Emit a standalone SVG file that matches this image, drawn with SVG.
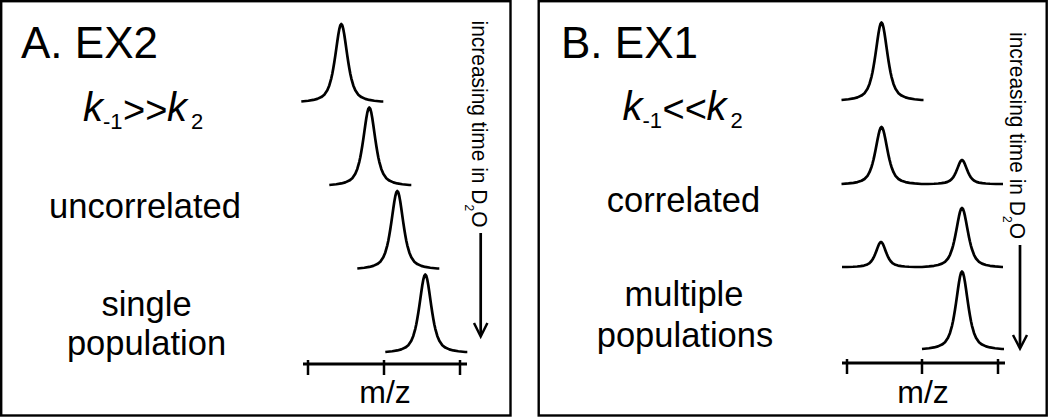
<svg xmlns="http://www.w3.org/2000/svg" xmlns:xlink="http://www.w3.org/1999/xlink" width="1050" height="418" viewBox="0 0 1050 418">
<style>
.frame{fill:#fff;stroke:#000;stroke-width:2.4}
.pk{fill:none;stroke:#000;stroke-width:2.7;stroke-linejoin:round}
.ax{stroke:#000;stroke-width:3;fill:none}
.tk{stroke:#000;stroke-width:2.5}
.t{font-family:"Liberation Sans",Arial,sans-serif;fill:#000}
.title{font-size:44px}
.lbl{font-size:34.5px;text-anchor:middle}
.k{font-size:40px;font-style:italic}
.sub{font-size:22px}
.cmp{font-size:38px}
.vt{font-size:22.5px}
.arr{stroke:#000;stroke-width:2.7;fill:none}
.ah{stroke:#000;stroke-width:2.5;fill:none;stroke-linejoin:miter}
</style>
<defs>
<path id="pk" class="pk" d="M-40 0 L-33 -0.73 L-28 -1.57 L-24 -2.64 L-20 -4.43 L-17 -6.8 L-14 -11.15 L-12 -16.03 L-10 -23.21 L-9 -27.83 L-8 -33.17 L-7 -39.21 L-6 -45.85 L-5 -52.89 L-4 -60.04 L-3 -66.76 L-2 -72.38 L-1 -76.16 L0 -77.5 L1 -76.16 L2 -72.38 L3 -66.76 L4 -60.04 L5 -52.89 L6 -45.85 L7 -39.21 L8 -33.17 L9 -27.83 L10 -23.21 L12 -16.03 L14 -11.15 L17 -6.8 L20 -4.43 L24 -2.64 L28 -1.57 L33 -0.73 L40 0 L42 0"/>
</defs>

<g id="panelA">
  <rect class="frame" x="1.2" y="1.2" width="509.3" height="414.3"/>
  <text class="t title" x="21" y="58">A. EX2</text>
  <g id="rateA">
    <text class="t k" x="83" y="121">k</text>
    <text class="t sub" x="103" y="129">-1</text>
    <text class="t cmp" x="123" y="123">&gt;&gt;</text>
    <text class="t k" x="167" y="121">k</text>
    <text class="t sub" x="191" y="129">2</text>
  </g>
  <text class="t lbl" x="145" y="218">uncorrelated</text>
  <text class="t lbl" x="146.5" y="316">single</text>
  <text class="t lbl" x="146.5" y="355">population</text>
  <g id="spectraA">
    <use xlink:href="#pk" x="341.3" y="101.5"/>
    <use xlink:href="#pk" x="369.3" y="185"/>
    <use xlink:href="#pk" x="397.3" y="268.5"/>
    <use xlink:href="#pk" x="425.3" y="352"/>
  </g>
  <g id="axisA">
    <line class="ax" x1="303" y1="364" x2="467" y2="364"/>
    <line class="tk" x1="308" y1="360" x2="308" y2="375"/>
    <line class="tk" x1="384" y1="360" x2="384" y2="375"/>
    <line class="tk" x1="460" y1="360" x2="460" y2="375"/>
    <text class="t lbl" x="385" y="403" style="font-size:32px">m/z</text>
  </g>
  <text class="t vt" transform="translate(471.5,20.5) rotate(90)" textLength="207" lengthAdjust="spacingAndGlyphs">increasing time in D<tspan font-size="13" dy="7">2</tspan><tspan dy="-7">O</tspan></text>
</g>

<g id="panelB">
  <rect class="frame" x="538.7" y="1.2" width="508" height="414.3"/>
  <text class="t title" x="561" y="58">B. EX1</text>
  <g id="rateB">
    <text class="t k" x="622.5" y="120">k</text>
    <text class="t sub" x="642.5" y="128">-1</text>
    <text class="t cmp" x="662.5" y="122">&lt;&lt;</text>
    <text class="t k" x="706.5" y="120">k</text>
    <text class="t sub" x="730.5" y="128">2</text>
  </g>
  <text class="t lbl" x="683.5" y="212">correlated</text>
  <text class="t lbl" x="684" y="306">multiple</text>
  <text class="t lbl" x="685" y="347">populations</text>
  <g id="spectraB">
    <use xlink:href="#pk" x="881.5" y="100"/>
    <path class="pk" d="M841.5 184 L848.5 183.46 L853.5 182.84 L857.5 182.06 L861.5 180.75 L864.5 179 L867.5 175.8 L869.5 172.21 L871.5 166.93 L872.5 163.53 L873.5 159.6 L874.5 155.16 L875.5 150.28 L876.5 145.1 L877.5 139.84 L878.5 134.9 L879.5 130.77 L880.5 127.99 L881.5 127 L882.5 127.99 L883.5 130.77 L884.5 134.9 L885.5 139.84 L886.5 145.1 L887.5 150.28 L888.5 155.16 L889.5 159.6 L890.5 163.53 L891.5 166.93 L893.5 172.21 L895.5 175.8 L898.5 179 L901.5 180.75 L905.5 182.06 L909.5 182.84 L914.5 183.46 L921.5 184 L928 184 L934 183.77 L938.2 183.51 L941.6 183.18 L945 182.63 L947.55 181.9 L950.1 180.55 L951.8 179.03 L953.5 176.81 L954.35 175.38 L955.2 173.73 L956.05 171.86 L956.9 169.8 L957.75 167.62 L958.6 165.41 L959.45 163.33 L960.3 161.59 L961.15 160.42 L962 160 L962.85 160.42 L963.7 161.59 L964.55 163.33 L965.4 165.41 L966.25 167.62 L967.1 169.8 L967.95 171.86 L968.8 173.73 L969.65 175.38 L970.5 176.81 L972.2 179.03 L973.9 180.55 L976.45 181.9 L979 182.63 L982.4 183.18 L985.8 183.51 L990 183.77 L996 184 L1003 184"/>
    <path class="pk" d="M842 267 L847 267 L853 266.77 L857.2 266.49 L860.6 266.15 L864 265.57 L866.55 264.81 L869.1 263.4 L870.8 261.83 L872.5 259.51 L873.35 258.02 L874.2 256.3 L875.05 254.35 L875.9 252.21 L876.75 249.94 L877.6 247.63 L878.45 245.46 L879.3 243.65 L880.15 242.43 L881 242 L881.85 242.43 L882.7 243.65 L883.55 245.46 L884.4 247.63 L885.25 249.94 L886.1 252.21 L886.95 254.35 L887.8 256.3 L888.65 258.02 L889.5 259.51 L891.2 261.83 L892.9 263.4 L895.45 264.81 L898 265.57 L901.4 266.15 L904.8 266.49 L909 266.77 L915 267 L922 267 L929 266.45 L934 265.8 L938 264.99 L942 263.63 L945 261.83 L948 258.51 L950 254.79 L952 249.33 L953 245.81 L954 241.75 L955 237.15 L956 232.1 L957 226.73 L958 221.29 L959 216.18 L960 211.9 L961 209.02 L962 208 L963 209.02 L964 211.9 L965 216.18 L966 221.29 L967 226.73 L968 232.1 L969 237.15 L970 241.75 L971 245.81 L972 249.33 L974 254.79 L976 258.51 L979 261.83 L982 263.63 L986 264.99 L990 265.8 L995 266.45 L1002 267 L1003 267"/>
    <use xlink:href="#pk" x="962" y="349"/>
  </g>
  <g id="axisB">
    <line class="ax" x1="842" y1="363" x2="1005" y2="363"/>
    <line class="tk" x1="847" y1="359" x2="847" y2="374"/>
    <line class="tk" x1="922" y1="359" x2="922" y2="374"/>
    <line class="tk" x1="998" y1="359" x2="998" y2="374"/>
    <text class="t lbl" x="923" y="403" style="font-size:32px">m/z</text>
  </g>
  <text class="t vt" transform="translate(1010,32) rotate(90)" textLength="207" lengthAdjust="spacingAndGlyphs">increasing time in D<tspan font-size="13" dy="7">2</tspan><tspan dy="-7">O</tspan></text>
</g>

<g id="connectors">
  <line class="arr" x1="480.7" y1="233" x2="480.7" y2="335"/>
  <polyline class="ah" points="474,323 480.7,336.5 487.4,323"/>
  <line class="arr" x1="1020" y1="245" x2="1020" y2="347"/>
  <polyline class="ah" points="1013,335 1020,348.5 1027,335"/>
</g>
</svg>
